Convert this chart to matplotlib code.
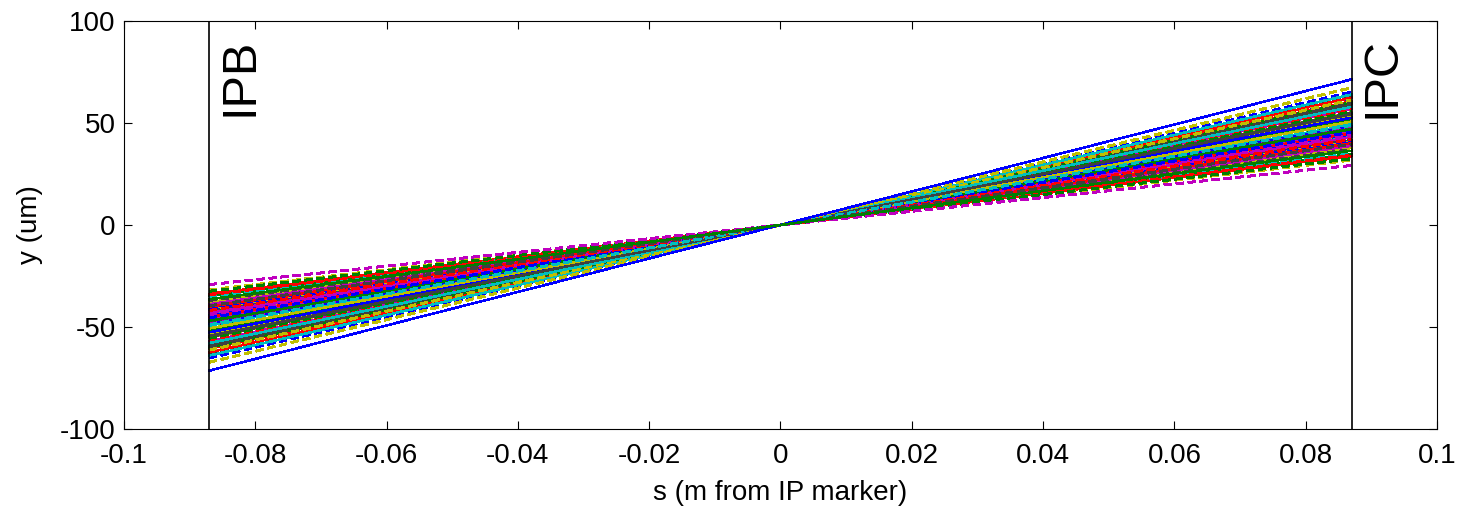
import matplotlib
matplotlib.use("Agg")
import matplotlib.pyplot as plt

plt.rcParams["font.family"] = ["Liberation Sans", "DejaVu Sans"]

# beam trajectories through the IP: y at IPC (um); IPB side is mirrored
y_ipc = [
    52.3, 44.1, 60.7, 38.5, 47.9, 55.2, 41.6, 49.8, 36.2, 58.4,
    45.3, 53.7, 40.2, 63.1, 47.0, 34.8, 51.5, 43.2, 56.9, 39.4,
    48.6, 61.9, 42.7, 50.4, 37.3, 54.6, 46.1, 59.3, 41.0, 52.9,
    33.7, 49.1, 57.6, 44.8, 39.9, 65.2, 46.7, 53.2, 35.6, 50.9,
    42.2, 55.8, 48.3, 38.0, 62.4, 45.7, 51.1, 40.7, 58.9, 36.9,
    47.4, 54.1, 43.6, 49.5, 31.8, 56.3, 44.5, 60.2, 39.1, 52.0,
    46.4, 37.8, 54.9, 42.0, 50.1, 57.1, 35.1, 48.0, 43.9, 59.8,
    40.4, 51.8, 45.0, 64.0, 38.8, 53.5, 47.2, 41.3, 55.5, 34.2,
    49.3, 44.4, 61.3, 37.0, 52.6, 46.9, 40.0, 57.9, 43.0, 50.7,
    54.3, 45.5, 32.5, 41.9, 48.9, 29.2, 67.3, 39.6, 71.4, 36.4,
]
s_ipb = -0.087
s_ipc = 0.087
markers = ["IPB", "IPC"]

xticks = [-0.1, -0.08, -0.06, -0.04, -0.02, 0, 0.02, 0.04, 0.06, 0.08, 0.1]
xticklabels = ["-0.1", "-0.08", "-0.06", "-0.04", "-0.02", "0",
               "0.02", "0.04", "0.06", "0.08", "0.1"]
yticks = [-100, -50, 0, 50, 100]
yticklabels = ["-100", "-50", "0", "50", "100"]

MATLAB_COLORS = ["#0000ff", "#008000", "#ff0000", "#00bfbf",
                 "#bf00bf", "#bfbf00", "#404040"]

fig = plt.figure(figsize=(14.58, 5.08), dpi=100)
ax = fig.add_axes([0.085, 0.1555, 0.9006, 0.8032])

for i, v in enumerate(y_ipc):
    color = MATLAB_COLORS[i % 7]
    dashed = (i // 7) % 2 == 1
    ls = (0, (5, 3)) if dashed else "-"
    ax.plot([s_ipb, s_ipc], [-v, v], color=color, linestyle=ls,
            linewidth=1.1, antialiased=False)

for s, name in zip([s_ipb, s_ipc], markers):
    ax.axvline(s, color="black", linewidth=1.2)
    ax.text(s + 0.0012, 92, name, rotation=90, ha="left", va="top",
            fontsize=35, color="black")

ax.set_xlim(-0.1, 0.1)
ax.set_ylim(-100, 100)
ax.set_xticks(xticks)
ax.set_xticklabels(xticklabels)
ax.set_yticks(yticks)
ax.set_yticklabels(yticklabels)
ax.tick_params(axis="both", direction="in", length=6, width=0.8,
               labelsize=20, top=True, right=True)
ax.tick_params(axis="x", pad=10)
ax.tick_params(axis="y", pad=6)
for spine in ax.spines.values():
    spine.set_linewidth(0.8)
ax.set_xlabel("s (m from IP marker)", fontsize=20, labelpad=8)
ax.set_ylabel("y (um)", fontsize=20, labelpad=12)

fig.savefig("out.png", dpi=100, facecolor="white")
plt.close(fig)
